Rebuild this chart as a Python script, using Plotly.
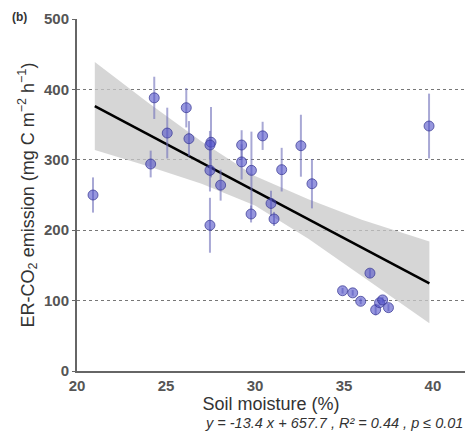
import plotly.graph_objects as go

# Observed points: soil moisture (%), ER-CO2 emission, error (±)
soil_moisture = [20.9, 24.14, 24.34, 25.07, 26.14, 26.29, 27.53, 27.47, 27.47, 27.47,
                 28.07, 29.25, 29.25, 29.8, 29.78, 30.43, 30.9, 31.07, 31.5, 32.58,
                 33.2, 34.92, 35.49, 35.94, 36.46, 36.78, 37.0, 37.17, 37.5, 39.78]
er_co2 = [250, 294, 388, 338, 374, 330, 325, 321, 285, 207,
          264, 321, 297, 285, 223, 334, 238, 216, 286, 320,
          266, 114, 111, 99, 139, 87, 97, 101, 90, 348]
er_err = [25, 19, 30, 36, 28, 25, 50, 20, 30, 39,
          22, 21, 25, 55, 12, 20, 18, 10, 31, 44,
          35, 4, 4, 4, 6, 8, 4, 4, 5, 46]

# Fitted line y = -13.4 x + 657.7 and confidence band
fit_x = [21.0, 39.8]
slope, intercept = -13.4, 657.7
band_x = [21, 24, 27, 30, 33, 36, 39.8]
band_hi = [439, 381, 326, 277, 244, 215, 184]
band_lo = [314, 291, 266, 235, 188, 135, 68]

x_ticks = [20, 25, 30, 35, 40]
y_ticks = [0, 100, 200, 300, 400, 500]

fig = go.Figure()

fig.add_trace(go.Scatter(
    x=band_x + band_x[::-1], y=band_hi + band_lo[::-1],
    fill="toself", fillcolor="rgba(200,200,200,0.75)",
    line=dict(width=0), mode="lines", hoverinfo="skip", showlegend=False))

fig.add_trace(go.Scatter(
    x=fit_x, y=[slope * v + intercept for v in fit_x],
    mode="lines", line=dict(color="black", width=2.5), showlegend=False))

fig.add_trace(go.Scatter(
    x=soil_moisture, y=er_co2, mode="markers",
    error_y=dict(type="data", array=er_err, visible=True,
                 color="rgba(110,110,185,0.6)", thickness=2, width=0),
    marker=dict(size=10, color="rgba(75,75,198,0.58)",
                line=dict(color="rgba(60,60,150,0.75)", width=1)),
    showlegend=False))

tick_font = dict(family="Liberation Sans, Arial, sans-serif", size=15,
                 color="#555555", weight="bold")

fig.update_layout(
    width=470, height=441,
    margin=dict(l=77, r=5, t=19, b=70),
    paper_bgcolor="white", plot_bgcolor="white",
    font=dict(family="Liberation Sans, Arial, sans-serif", color="#333333"),
    xaxis=dict(range=[20, 41.8], tickvals=x_ticks, showgrid=False, zeroline=False,
               showline=True, linecolor="#666666", linewidth=2,
               ticks="", tickfont=tick_font,
               title=dict(text="Soil moisture (%)", font=dict(size=18, color="#333333"),
                          standoff=3)),
    yaxis=dict(range=[0, 500], tickvals=y_ticks, showgrid=True,
               gridcolor="#777777", griddash="dot", gridwidth=1, zeroline=False,
               showline=True, linecolor="#666666", linewidth=2,
               ticks="outside", ticklen=3, tickcolor="#666666", tickfont=tick_font,
               title=dict(text="ER-CO<sub>2</sub> emission (mg C m<sup>\u22122</sup> h<sup>\u22121</sup>)",
                          font=dict(size=18, color="#333333"), standoff=5)),
    annotations=[
        dict(text="<b>(b)</b>", xref="paper", yref="paper", x=-0.149, y=1.006,
             xanchor="center", yanchor="middle", showarrow=False,
             font=dict(size=12, color="#333333")),
        dict(text="<i>y = -13.4 x + 657.7 , R\u00b2 = 0.44 , p \u2264 0.01</i>",
             xref="paper", yref="paper", x=1.0, y=-0.148,
             xanchor="right", yanchor="middle", showarrow=False,
             font=dict(size=14.5, color="#333333")),
    ],
)

fig.write_html("out.html")
